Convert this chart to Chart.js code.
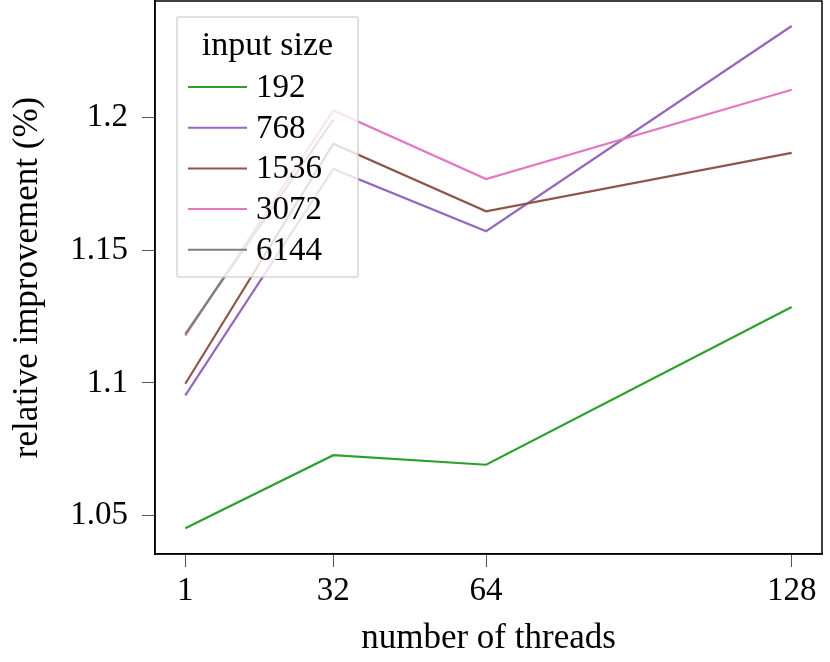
<!DOCTYPE html>
<html>
<head>
<meta charset="utf-8">
<script src="https://cdn.jsdelivr.net/npm/chart.js@4"></script>
<style>
    html, body { margin: 0; padding: 0; background: #ffffff; }
    #wrap { width: 830px; height: 662px; }
</style>
</head>
<body>
<div id="wrap"><canvas id="chart" width="830" height="662"></canvas></div>
<script>
// values
const threads = [1, 32, 64, 128];
const sizes = ['192', '768', '1536', '3072', '6144'];
const series192 = [1.0453, 1.0728, 1.0692, 1.1286];
const series768 = [1.0953, 1.1806, 1.1571, 1.2344];
const series1536 = [1.0997, 1.1901, 1.1646, 1.1866];
const series3072 = [1.1178, 1.2026, 1.1768, 1.2104];
const series6144 = [1.1185, 1.1991, null, null];
const xTicks = [1, 32, 64, 128];
const yTicks = [1.05, 1.1, 1.15, 1.2];
const yTickLabels = ['1.05', '1.1', '1.15', '1.2'];

const colors = ['#2ca02c', '#9467bd', '#8c564b', '#e377c2', '#7f7f7f'];
const allSeries = [series192, series768, series1536, series3072, series6144];
const FONT = '"Liberation Serif", "Times New Roman", serif';

function toPoints(values) {
    const pts = [];
    values.forEach((v, i) => {
        if (v !== null) pts.push({ x: threads[i], y: v });
    });
    return pts;
}

// box around the whole plot area
const frame = {
    id: 'frame',
    afterDraw(chart) {
        const a = chart.chartArea;
        const ctx = chart.ctx;
        ctx.save();
        ctx.strokeStyle = '#000000';
        ctx.lineWidth = 1.5;
        ctx.strokeRect(a.left, a.top, a.right - a.left, a.bottom - a.top);
        ctx.restore();
    }
};

// legend with title, drawn inside the plot like the original
const boxLegend = {
    id: 'boxLegend',
    afterDatasetsDraw(chart) {
        const ctx = chart.ctx;
        const x0 = 177, y0 = 17, w = 181, h = 260;
        ctx.save();
        ctx.fillStyle = 'rgba(255,255,255,0.8)';
        ctx.strokeStyle = 'rgba(204,204,204,0.8)';
        ctx.lineWidth = 1.5;
        ctx.beginPath();
        ctx.roundRect(x0, y0, w, h, 2);
        ctx.fill();
        ctx.stroke();

        ctx.fillStyle = '#000000';
        ctx.font = '34px ' + FONT;
        ctx.textBaseline = 'alphabetic';
        ctx.textAlign = 'center';
        ctx.fillText('input size', x0 + w / 2, 55);

        ctx.font = '33px ' + FONT;
        ctx.textAlign = 'left';
        chart.data.datasets.forEach((ds, i) => {
            const ly = 87 + i * 40.7;
            ctx.strokeStyle = ds.borderColor;
            ctx.lineWidth = 2;
            ctx.beginPath();
            ctx.moveTo(188, ly);
            ctx.lineTo(247, ly);
            ctx.stroke();
            ctx.fillStyle = '#000000';
            ctx.fillText(ds.label, 256, ly + 10);
        });
        ctx.restore();
    }
};

const ctx = document.getElementById('chart').getContext('2d');
new Chart(ctx, {
    type: 'line',
    data: {
        datasets: sizes.map((s, i) => ({
            label: s,
            data: toPoints(allSeries[i]),
            borderColor: colors[i],
            backgroundColor: colors[i],
            borderWidth: 2.2,
            pointRadius: 0,
            tension: 0,
            fill: false,
            order: sizes.length - i // later series drawn on top
        }))
    },
    options: {
        responsive: false,
        animation: false,
        layout: { padding: { left: 0, right: 8, top: 1, bottom: 0 } },
        plugins: {
            legend: { display: false },
            tooltip: { enabled: false }
        },
        scales: {
            x: {
                type: 'linear',
                min: -5.35,
                max: 134.35,
                afterBuildTicks: scale => { scale.ticks = xTicks.map(v => ({ value: v })); },
                afterFit: scale => {
                    scale.height = 108;
                    scale.paddingLeft = 0;
                    scale.paddingRight = 0;
                },
                ticks: {
                    color: '#000000',
                    font: { family: FONT, size: 33 },
                    padding: 5,
                    maxRotation: 0,
                    callback: v => String(v)
                },
                grid: { drawOnChartArea: false, drawTicks: true, tickLength: 13, color: '#555555', lineWidth: 1 },
                border: { display: true, color: '#000000', width: 1.5 },
                title: {
                    display: true,
                    text: 'number of threads',
                    color: '#000000',
                    font: { family: FONT, size: 35 },
                    padding: { top: 0, bottom: 2 }
                }
            },
            y: {
                type: 'linear',
                min: 1.0356,
                max: 1.2438,
                afterBuildTicks: scale => { scale.ticks = yTicks.map(v => ({ value: v })); },
                afterFit: scale => {
                    scale.width = 155;
                    scale.paddingTop = 0;
                    scale.paddingBottom = 0;
                },
                ticks: {
                    color: '#000000',
                    font: { family: FONT, size: 33 },
                    padding: 14,
                    callback: v => yTickLabels[yTicks.indexOf(v)] ?? String(v)
                },
                grid: { drawOnChartArea: false, drawTicks: true, tickLength: 13, color: '#555555', lineWidth: 1 },
                border: { display: true, color: '#000000', width: 1.5 },
                title: {
                    display: true,
                    text: 'relative improvement (%)',
                    color: '#000000',
                    font: { family: FONT, size: 35 },
                    padding: { top: 7, bottom: 0 }
                }
            }
        }
    },
    plugins: [boxLegend, frame]
});
</script>
</body>
</html>
